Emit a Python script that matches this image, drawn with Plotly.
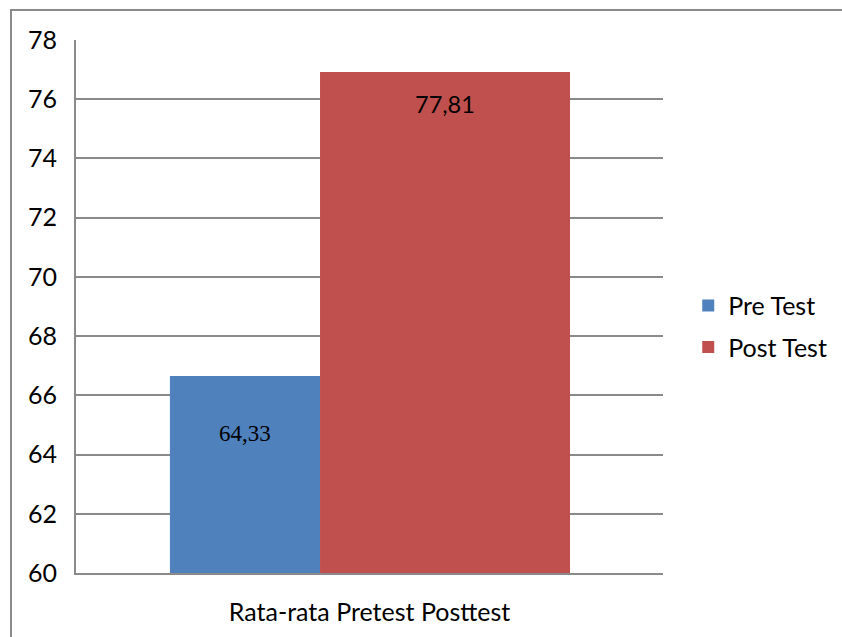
import plotly.graph_objects as go

categories = ["Rata-rata Pretest Posttest"]
series_names = ["Pre Test", "Post Test"]
bar_heights = [66.65, 76.92]
label_texts = ["64,33", "77,81"]
label_y = [64.7, 75.85]
y_ticks = list(range(60, 80, 2))
colors = ["#4F81BD", "#C0504D"]

L, R, T, B = 76, 179, 40, 64
PW, PH = 842 - L - R, 637 - T - B

# bar extents in category units (single category at index 0, range [-0.5, 0.5])
offsets = [-0.340, -0.0843]
widths = [0.2557, 0.4259]

fig = go.Figure()
for i in range(2):
    fig.add_trace(go.Bar(
        x=categories, y=[bar_heights[i]], name=series_names[i],
        marker=dict(color=colors[i], line=dict(width=0)),
        offset=offsets[i], width=widths[i],
        legendgroup=series_names[i],
        hoverinfo="skip",
    ))

label_fonts = [dict(family="Liberation Serif", size=23, color="#000"),
               dict(family="Lato", size=23.5, color="#000")]
for i in range(2):
    fig.add_annotation(
        x=offsets[i] + widths[i] / 2, y=label_y[i], xref="x", yref="y",
        text=label_texts[i], showarrow=False, font=label_fonts[i],
    )

# outer chart border
fig.add_shape(type="rect", xref="paper", yref="paper",
              x0=(11 - L) / PW, x1=(900 - L) / PW,
              y0=(T + PH - 660) / PH, y1=1 + (T - 10) / PH,
              line=dict(color="#8a8a8a", width=2), fillcolor="rgba(0,0,0,0)",
              layer="below")

fig.update_layout(
    width=842, height=637,
    margin=dict(l=L, r=R, t=T, b=B, pad=0, autoexpand=False),
    paper_bgcolor="white", plot_bgcolor="white",
    barmode="overlay",
    font=dict(family="Lato", size=25, color="#000"),
    showlegend=True,
    legend=dict(x=1.043, y=0.463, xanchor="left", yanchor="middle",
                font=dict(family="Lato", size=25, color="#000"),
                traceorder="grouped", tracegroupgap=6,
                bgcolor="rgba(0,0,0,0)"),
    xaxis=dict(type="category", range=[-0.5, 0.5], showgrid=False,
               showline=True, linecolor="#8a8a8a", linewidth=2,
               ticks="", ticklabelstandoff=16, fixedrange=True),
    yaxis=dict(range=[60, 78], tickvals=y_ticks, showgrid=True,
               gridcolor="#8a8a8a", gridwidth=1.5, zeroline=False,
               showline=True, linecolor="#8a8a8a", linewidth=2,
               ticks="", ticklabelstandoff=12, fixedrange=True),
)

fig.write_html("out.html")
